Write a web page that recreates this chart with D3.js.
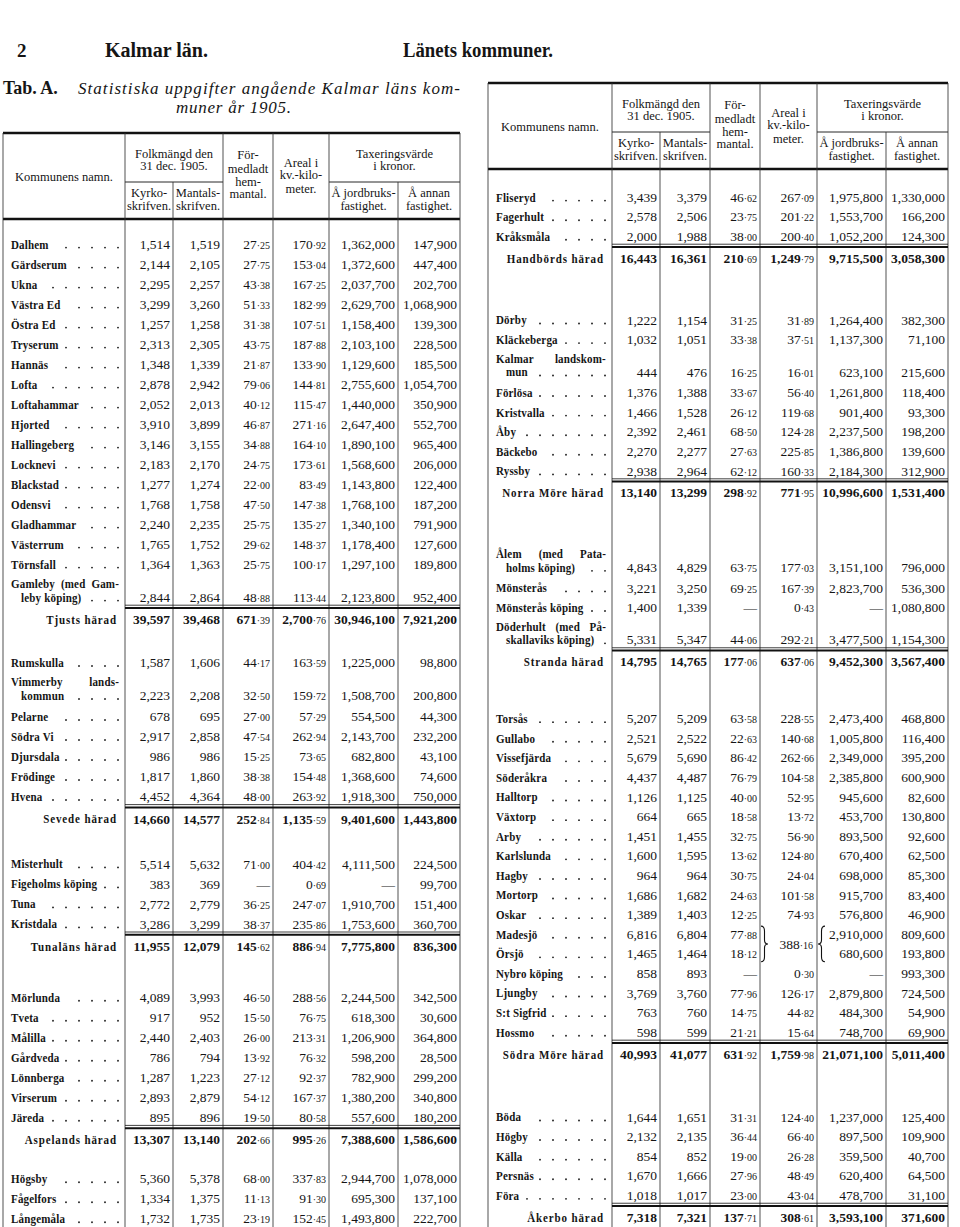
<!DOCTYPE html>
<html><head><meta charset="utf-8">
<script src="https://cdn.jsdelivr.net/npm/d3@7/dist/d3.min.js"></script>
<style>
html,body{margin:0;padding:0;background:#fff;}
svg{display:block;}
text{font-family:"Liberation Serif","DejaVu Serif",serif;fill:#151515;}
</style></head><body>
<svg id="chart" width="960" height="1227"></svg>
<script>
// ================= DATA =================
const pageNumber = "2";
const pageTitleLeft = "Kalmar län.";
const pageTitleRight = "Länets kommuner.";
const tableLabel = "Tab. A.";
const tableTitle = ["Statistiska uppgifter angående Kalmar läns kom-", "muner år 1905."];

const headName = ["Kommunens namn."];
const headFolk = ["Folkmängd den", "31 dec. 1905."];
const headKyrko = ["Kyrko-", "skrifven."];
const headMantals = ["Mantals-", "skrifven."];
const headHem = ["För-", "medladt", "hem-", "mantal."];
const headAreal = ["Areal i", "kv.-kilo-", "meter."];
const headTax = ["Taxeringsvärde", "i kronor."];
const headJord = ["Å jordbruks-", "fastighet."];
const headAnnan = ["Å annan", "fastighet."];

const municipalities = [
 "Dalhem","Gärdserum","Ukna","Västra Ed","Östra Ed","Tryserum","Hannäs","Lofta","Loftahammar","Hjorted","Hallingeberg","Locknevi","Blackstad","Odensvi","Gladhammar","Västerrum","Törnsfall","Gamleby (med Gamleby köping)",
 "Rumskulla","Vimmerby landskommun","Pelarne","Södra Vi","Djursdala","Frödinge","Hvena",
 "Misterhult","Figeholms köping","Tuna","Kristdala",
 "Mörlunda","Tveta","Målilla","Gårdveda","Lönnberga","Virserum","Järeda",
 "Högsby","Fågelfors","Långemåla","Fliseryd","Fagerhult","Kråksmåla",
 "Dörby","Kläckeberga","Kalmar landskommun","Förlösa","Kristvalla","Åby","Bäckebo","Ryssby",
 "Ålem (med Pataholms köping)","Mönsterås","Mönsterås köping","Döderhult (med Påskallaviks köping)",
 "Torsås","Gullabo","Vissefjärda","Söderåkra","Halltorp","Växtorp","Arby","Karlslunda","Hagby","Mortorp","Oskar","Madesjö","Örsjö","Nybro köping","Ljungby","S:t Sigfrid","Hossmo",
 "Böda","Högby","Källa","Persnäs","Föra"];

const haradIndex = [
 0,0,0,0,0,0,0,0,0,0,0,0,0,0,0,0,0,0,
 1,1,1,1,1,1,1,
 2,2,2,2,
 3,3,3,3,3,3,3,
 4,4,4,4,4,4,
 5,5,5,5,5,5,5,5,
 6,6,6,6,
 7,7,7,7,7,7,7,7,7,7,7,7,7,7,7,7,7,
 8,8,8,8,8];

const kyrkoskrifven = [
 1514,2144,2295,3299,1257,2313,1348,2878,2052,3910,3146,2183,1277,1768,2240,1765,1364,2844,
 1587,2223,678,2917,986,1817,4452,
 5514,383,2772,3286,
 4089,917,2440,786,1287,2893,895,
 5360,1334,1732,3439,2578,2000,
 1222,1032,444,1376,1466,2392,2270,2938,
 4843,3221,1400,5331,
 5207,2521,5679,4437,1126,664,1451,1600,964,1686,1389,6816,1465,858,3769,763,598,
 1644,2132,854,1670,1018];

const mantalsskrifven = [
 1519,2105,2257,3260,1258,2305,1339,2942,2013,3899,3155,2170,1274,1758,2235,1752,1363,2864,
 1606,2208,695,2858,986,1860,4364,
 5632,369,2779,3299,
 3993,952,2403,794,1223,2879,896,
 5378,1375,1735,3379,2506,1988,
 1154,1051,476,1388,1528,2461,2277,2964,
 4829,3250,1339,5347,
 5209,2522,5690,4487,1125,665,1455,1595,964,1682,1403,6804,1464,893,3760,760,599,
 1651,2135,852,1666,1017];

const hemmantal = [
 27.25,27.75,43.38,51.33,31.38,43.75,21.87,79.06,40.12,46.87,34.88,24.75,22.00,47.50,25.75,29.62,25.75,48.88,
 44.17,32.50,27.00,47.54,15.25,38.38,48.00,
 71.00,null,36.25,38.37,
 46.50,15.50,26.00,13.92,27.12,54.12,19.50,
 68.00,11.13,23.19,46.62,23.75,38.00,
 31.25,33.38,16.25,33.67,26.12,68.50,27.63,62.12,
 63.75,69.25,null,44.06,
 63.58,22.63,86.42,76.79,40.00,18.58,32.75,13.62,30.75,24.63,12.25,77.88,18.12,null,77.96,14.75,21.21,
 31.31,36.44,19.00,27.96,23.00];

const areal = [
 170.92,153.04,167.25,182.99,107.51,187.88,133.90,144.81,115.47,271.16,164.10,173.61,83.49,147.38,135.27,148.37,100.17,113.44,
 163.59,159.72,57.29,262.94,73.65,154.48,263.92,
 404.42,0.69,247.07,235.86,
 288.56,76.75,213.31,76.32,92.37,167.37,80.58,
 337.83,91.30,152.45,267.09,201.22,200.40,
 31.89,37.51,16.01,56.40,119.68,124.28,225.85,160.33,
 177.03,167.39,0.43,292.21,
 228.55,140.68,262.66,104.58,52.95,13.72,56.90,124.80,24.04,101.58,74.93,null,null,0.30,126.17,44.82,15.64,
 124.40,66.40,26.28,48.49,43.04];

// joint area printed once for two communes (with braces)
const jointArealRows = ["Madesjö", "Örsjö"];
const jointArealValue = 388.16;

const jordbruk = [
 1362000,1372600,2037700,2629700,1158400,2103100,1129600,2755600,1440000,2647400,1890100,1568600,1143800,1768100,1340100,1178400,1297100,2123800,
 1225000,1508700,554500,2143700,682800,1368600,1918300,
 4111500,null,1910700,1753600,
 2244500,618300,1206900,598200,782900,1380200,557600,
 2944700,695300,1493800,1975800,1553700,1052200,
 1264400,1137300,623100,1261800,901400,2237500,1386800,2184300,
 3151100,2823700,null,3477500,
 2473400,1005800,2349000,2385800,945600,453700,893500,670400,698000,915700,576800,2910000,680600,null,2879800,484300,748700,
 1237000,897500,359500,620400,478700];

const annan = [
 147900,447400,202700,1068900,139300,228500,185500,1054700,350900,552700,965400,206000,122400,187200,791900,127600,189800,952400,
 98800,200800,44300,232200,43100,74600,750000,
 224500,99700,151400,360700,
 342500,30600,364800,28500,299200,340800,180200,
 1078000,137100,222700,1330000,166200,124300,
 382300,71100,215600,118400,93300,198200,139600,312900,
 796000,536300,1080800,1154300,
 468800,116400,395200,600900,82600,130800,92600,62500,85300,83400,46900,809600,193800,993300,724500,54900,69900,
 125400,109900,40700,64500,31100];

const haradNames = ["Tjusts härad","Sevede härad","Tunaläns härad","Aspelands härad","Handbörds härad","Norra Möre härad","Stranda härad","Södra Möre härad","Åkerbo härad"];
const haradKyrko = [39597,14660,11955,13307,16443,13140,14795,40993,7318];
const haradMantals = [39468,14577,12079,13140,16361,13299,14765,41077,7321];
const haradHem = [671.39,252.84,145.62,202.66,210.69,298.92,177.06,631.92,137.71];
const haradAreal = [2700.76,1135.59,886.94,995.26,1249.79,771.95,637.06,1759.98,308.61];
const haradJord = [30946100,9401600,7775800,7388600,9715500,10996600,9452300,21071100,3593100];
const haradAnnan = [7921200,1443800,836300,1586600,3058300,1531400,3567400,5011400,371600];

// ================= LAYOUT =================
const W = 960, H = 1227;
const wrap = {
 "Gamleby (med Gamleby köping)": ["Gamleby (med Gam-", "leby köping)"],
 "Vimmerby landskommun": ["Vimmerby lands-", "kommun"],
 "Kalmar landskommun": ["Kalmar landskom-", "mun"],
 "Ålem (med Pataholms köping)": ["Ålem (med Pata-", "holms köping)"],
 "Döderhult (med Påskallaviks köping)": ["Döderhult (med På-", "skallaviks köping)"]
};
const panels = [
 {edges:[3,125,173,223,273,329,398,460], top:133, y0:244, pitch:20, from:0, to:39, gaps:[1.15,1.25,1.55,0.95]},
 {edges:[488,612,660,710,760,817,886,948], top:83, y0:197, pitch:19.6, from:39, to:76, gaps:[2.15,2.15,1.9,2.2]}
];
const NUM_SIZE = 13.5, DEC_SIZE = 10, NAME_SIZE = 12.5, NAME_SX = 0.88, HEAD_SIZE = 12.5;
const fmtInt = d3.format(",");
const fmtDec = d3.format(",.2f");
const cols = [kyrkoskrifven, mantalsskrifven, hemmantal, areal, jordbruk, annan];
const haradCols = [haradKyrko, haradMantals, haradHem, haradAreal, haradJord, haradAnnan];
const kinds = ["int","int","dec","dec","int","int"];

const svg = d3.select("#chart");
svg.append("rect").attr("width", W).attr("height", H).attr("fill", "#fff");

// ---------- page heading ----------
svg.append("text").attr("x", 17).attr("y", 57).attr("font-size", 19).attr("font-weight", "bold").text(pageNumber);
svg.append("text").attr("x", 105).attr("y", 57).attr("font-size", 20).attr("font-weight", "bold")
  .attr("textLength", 103).attr("lengthAdjust", "spacingAndGlyphs").text(pageTitleLeft);
svg.append("text").attr("x", 403).attr("y", 57).attr("font-size", 20).attr("font-weight", "bold")
  .attr("textLength", 150).attr("lengthAdjust", "spacingAndGlyphs").text(pageTitleRight);
svg.append("text").attr("x", 3).attr("y", 94).attr("font-size", 18).attr("font-weight", "bold").text(tableLabel);
svg.append("text").attr("x", 78).attr("y", 94).attr("font-size", 17).attr("font-style", "italic")
  .attr("textLength", 382).attr("lengthAdjust", "spacing").text(tableTitle[0]);
svg.append("text").attr("x", 176).attr("y", 113).attr("font-size", 17).attr("font-style", "italic")
  .attr("textLength", 115).attr("lengthAdjust", "spacing").text(tableTitle[1]);

// ---------- helpers ----------
function nameText(g, x, y, str, anchor, ls) {
  const t = g.append("text")
    .attr("transform", `translate(${x},${y + 4.5}) scale(${NAME_SX},1)`)
    .attr("font-size", NAME_SIZE).attr("font-weight", "bold")
    .attr("letter-spacing", ls || 0.2)
    .attr("text-anchor", anchor || "start").text(str);
  return t.node().getComputedTextLength() * NAME_SX;
}
function justifiedName(g, x0, x1, y, str) {
  const words = str.split(" ");
  const tmp = words.map(w => {
    const t = g.append("text").attr("font-size", NAME_SIZE).attr("font-weight", "bold").attr("letter-spacing", 0.2).text(w);
    const wdt = t.node().getComputedTextLength() * NAME_SX; t.remove(); return wdt;
  });
  const gap = (x1 - x0 - d3.sum(tmp)) / Math.max(1, words.length - 1);
  let x = x0;
  words.forEach((w, k) => { nameText(g, x, y, w); x += tmp[k] + gap; });
}
function leaders(g, fromX, toX, y) {
  for (let x = toX; x > fromX + 6; x -= 13) {
    g.append("circle").attr("cx", x).attr("cy", y + 3.6).attr("r", 0.95).attr("fill", "#222");
  }
}
function numText(g, xr, y, v, kind, bold) {
  const t = g.append("text").attr("x", xr).attr("y", y + 4.7).attr("text-anchor", "end")
    .attr("font-size", NUM_SIZE).attr("font-weight", bold ? "bold" : "normal");
  if (v === null || v === undefined) { t.text("—"); return; }
  if (kind === "int") { t.text(fmtInt(v)); return; }
  const parts = fmtDec(v).split(".");
  t.append("tspan").text(parts[0]);
  t.append("tspan").attr("font-size", DEC_SIZE).attr("font-weight", "normal").text("·" + parts[1]);
}
function hLine(g, x1, x2, y, w) {
  g.append("line").attr("x1", x1).attr("x2", x2).attr("y1", y).attr("y2", y)
    .attr("stroke", "#111").attr("stroke-width", w);
}
function stackText(g, cx, ys, lines) {
  lines.forEach((s, k) => g.append("text").attr("x", cx).attr("y", ys[k] + 4.3)
    .attr("text-anchor", "middle").attr("font-size", HEAD_SIZE).text(s));
}

// ---------- panels ----------
panels.forEach(p => {
  const g = svg.append("g");
  const e = p.edges, top = p.top;
  const y = d3.scaleLinear().domain([0, 1]).range([p.y0, p.y0 + p.pitch]);
  const mid = (a, b) => (e[a] + e[b]) / 2;

  // header rules and texts
  hLine(g, e[0], e[7], top, 2.6);
  hLine(g, e[1], e[3], top + 49, 0.9);
  hLine(g, e[5], e[7], top + 49, 0.9);
  hLine(g, e[0], e[7], top + 86, 2.4);
  e.forEach((x, j) => {
    g.append("line").attr("x1", x).attr("x2", x)
      .attr("y1", (j === 2 || j === 6) ? top + 49 : top).attr("y2", H)
      .attr("stroke", "#333").attr("stroke-width", 0.85);
  });
  stackText(g, mid(0, 1), [top + 44], headName);
  stackText(g, mid(1, 3), [top + 21, top + 33], headFolk);
  stackText(g, mid(1, 2), [top + 60, top + 73], headKyrko);
  stackText(g, mid(2, 3), [top + 60, top + 73], headMantals);
  stackText(g, mid(3, 4), [top + 22, top + 36, top + 49, top + 61], headHem);
  stackText(g, mid(4, 5), [top + 30, top + 42, top + 56], headAreal);
  stackText(g, mid(5, 7), [top + 21, top + 33], headTax);
  stackText(g, mid(5, 6), [top + 60, top + 73], headJord);
  stackText(g, mid(6, 7), [top + 60, top + 73], headAnnan);

  // build row items
  const idx = d3.range(p.from, p.to);
  const groups = d3.groups(idx, i => haradIndex[i]);
  let u = 0; const items = [];
  groups.forEach(([h, rows], k) => {
    if (k > 0) u += p.gaps[k - 1];
    let last = u;
    rows.forEach(i => {
      if (wrap[municipalities[i]]) { items.push({type: "row2", i, u1: u - 0.05, u2: u + 0.65}); last = u + 0.65; u += 1.7; }
      else { items.push({type: "row", i, u}); last = u; u += 1; }
    });
    const lastOfHarad = d3.max(d3.range(municipalities.length).filter(j => haradIndex[j] === h));
    if (lastOfHarad < p.to) { items.push({type: "total", h, rule: last + 0.47, u: last + 1.12}); u = last + 2.12; }
  });

  const nameX = e[0] + 8, dotEnd = e[1] - 7;
  const jointY = [];
  items.forEach(it => {
    if (it.type === "total") {
      const ry = y(it.rule);
      hLine(g, e[1], e[7], ry - 1.2, 0.8);
      hLine(g, e[1], e[7], ry + 1.6, 2.0);
      const ty = y(it.u);
      nameText(g, e[1] - 8, ty, haradNames[it.h], "end", 1.0);
      haradCols.forEach((arr, c) => numText(g, e[c + 2] - 3, ty, arr[it.h], kinds[c], true));
      return;
    }
    const name = municipalities[it.i];
    let vy;
    if (it.type === "row") {
      vy = y(it.u);
      const w = nameText(g, nameX, vy, name);
      leaders(g, nameX + w, dotEnd, vy);
    } else {
      const [l1, l2] = wrap[name];
      justifiedName(g, nameX, dotEnd + 1, y(it.u1), l1);
      vy = y(it.u2);
      const w = nameText(g, nameX + 10, vy, l2);
      leaders(g, nameX + 10 + w, dotEnd, vy);
    }
    if (jointArealRows.includes(name)) jointY.push(vy);
    cols.forEach((arr, c) => {
      if (c === 3 && jointArealRows.includes(name)) return;
      numText(g, e[c + 2] - 3, vy, arr[it.i], kinds[c], false);
    });
  });

  // joint area with braces
  if (jointY.length === 2) {
    const y1 = jointY[0] - 8, y2 = jointY[1] + 8, ym = (y1 + y2) / 2;
    const bx = e[4] + 1, bw = 7;
    const brace = (x, w) => `M${x},${y1} Q${x + w / 2},${y1} ${x + w / 2},${y1 + 5} L${x + w / 2},${ym - 4} Q${x + w / 2},${ym} ${x + w},${ym} Q${x + w / 2},${ym} ${x + w / 2},${ym + 4} L${x + w / 2},${y2 - 5} Q${x + w / 2},${y2} ${x},${y2}`;
    g.append("path").attr("d", brace(bx, bw)).attr("fill", "none").attr("stroke", "#111").attr("stroke-width", 1.1);
    g.append("path").attr("d", brace(e[5] + 8, -bw)).attr("fill", "none").attr("stroke", "#111").attr("stroke-width", 1.1);
    numText(g, e[5] - 4, ym, jointArealValue, "dec", false);
  }
});
</script>
</body></html>
